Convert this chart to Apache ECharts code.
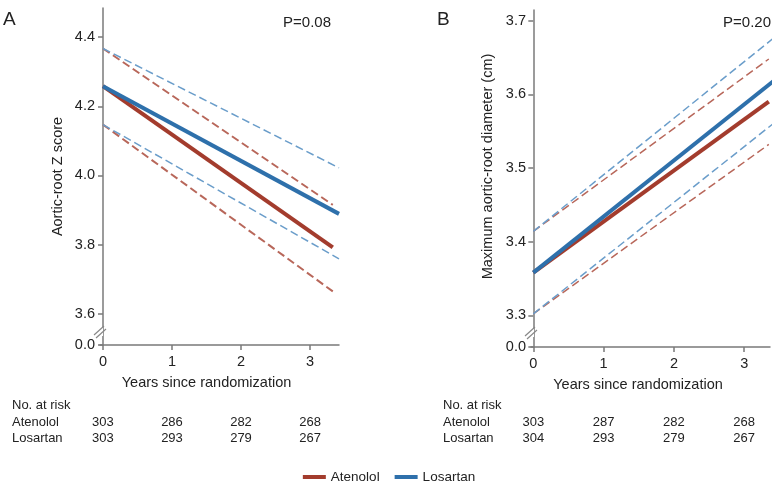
<!DOCTYPE html>
<html>
<head>
<meta charset="utf-8">
<title>aortic root</title>
<script src="https://cdn.jsdelivr.net/npm/echarts@6.0.0/dist/echarts.min.js"></script>
<style>
  body { margin: 0; background: #fff; }
  #main { width: 778px; height: 486px; }
</style>
</head>
<body>
<div id="main"></div>
<script type="text/javascript">
// panel A: aortic-root Z score, [year, value]
var atenololZ      = [[0, 4.258], [3.33, 3.792]];
var atenololZUpper = [[0, 4.367], [3.33, 3.915]];
var atenololZLower = [[0, 4.147], [3.33, 3.665]];
var losartanZ      = [[0, 4.258], [3.42, 3.889]];
var losartanZUpper = [[0, 4.367], [3.42, 4.022]];
var losartanZLower = [[0, 4.147], [3.42, 3.759]];

// panel B: maximum aortic-root diameter (cm)
var atenololD      = [[0, 3.358], [3.35, 3.590]];
var atenololDUpper = [[0, 3.414], [3.35, 3.648]];
var atenololDLower = [[0, 3.302], [3.35, 3.532]];
var losartanD      = [[0, 3.358], [3.43, 3.619]];
var losartanDUpper = [[0, 3.414], [3.40, 3.675]];
var losartanDLower = [[0, 3.302], [3.41, 3.560]];

var yearTicks = [0, 1, 2, 3];
var zTicks = [3.6, 3.8, 4.0, 4.2, 4.4];
var dTicks = [3.3, 3.4, 3.5, 3.6, 3.7];

// numbers at risk
var riskAtenololA = [303, 286, 282, 268];
var riskLosartanA = [303, 293, 279, 267];
var riskAtenololB = [303, 287, 282, 268];
var riskLosartanB = [304, 293, 279, 267];

var RED = '#a33c2d', BLUE = '#2e70ab';
var RED_DASH = '#b8675a', BLUE_DASH = '#6a9dca';
var FONT = 'Liberation Sans';

var zMin = 3.51, zMax = 4.484;
var dMin = 3.257, dMax = 3.7145;

function axisCommon() {
    return {
        axisLine: { lineStyle: { color: '#7a7a7a', width: 1.5 } },
        axisTick: { length: 5, lineStyle: { color: '#7a7a7a', width: 1.5 } },
        splitLine: { show: false },
        axisLabel: { color: '#222', fontSize: 14.5, fontFamily: FONT }
    };
}

function xAxis(idx, min, max, pad) {
    var a = axisCommon();
    a.type = 'value';
    a.gridIndex = idx;
    a.min = min;
    a.max = max;
    a.axisTick.customValues = yearTicks;
    a.axisLabel.customValues = yearTicks;
    a.axisLabel.margin = 9;
    a.name = 'Years since randomization';
    a.nameLocation = 'middle';
    a.nameGap = 30;
    a.nameTextStyle = { color: '#222', fontSize: 14.5, fontFamily: FONT, padding: [0, pad, 0, 0] };
    return a;
}

function yAxis(idx, min, max, ticks, name, gap, lift) {
    var a = axisCommon();
    a.type = 'value';
    a.gridIndex = idx;
    a.min = min;
    a.max = max;
    var vals = [min].concat(ticks);
    a.axisTick.customValues = vals;
    a.axisLabel.customValues = vals;
    a.axisLabel.margin = 5;
    a.axisLabel.formatter = function (v) {
        return v < min + 0.01 ? '0.0' : v.toFixed(1);
    };
    a.name = name;
    a.nameLocation = 'middle';
    a.nameGap = gap;
    a.nameTextStyle = { color: '#222', fontSize: 14.5, fontFamily: FONT, padding: [0, 0, 0, lift] };
    return a;
}

function line(name, data, idx, color, width, dashed) {
    return {
        name: name,
        type: 'line',
        xAxisIndex: idx,
        yAxisIndex: idx,
        data: data,
        showSymbol: false,
        clip: false,
        silent: true,
        z: dashed ? 2 : 3,
        lineStyle: { color: color, width: width, type: dashed ? [8, 4] : 'solid' },
        itemStyle: { color: color }
    };
}

var chart = echarts.init(document.getElementById('main'));
chart.setOption({
    animation: false,
    backgroundColor: '#fff',
    grid: [
        { left: 100, top: 8, width: 239, height: 337 },
        { left: 531, top: 10, width: 239, height: 337 }
    ],
    xAxis: [
        xAxis(0, -0.043, 3.42, 26),
        xAxis(1, -0.033, 3.367, 25)
    ],
    yAxis: [
        yAxis(0, zMin, zMax, zTicks, 'Aortic-root Z score', 35, 0),
        yAxis(1, dMin, dMax, dTicks, 'Maximum aortic-root diameter (cm)', 36, 24)
    ],
    legend: {
        data: ['Atenolol', 'Losartan'],
        left: 'center',
        top: 465,
        icon: 'rect',
        itemWidth: 23,
        itemHeight: 4,
        itemGap: 15,
        textStyle: { color: '#222', fontSize: 13.5, fontFamily: FONT }
    },
    series: [
        line('Atenolol upper', atenololZUpper, 0, RED_DASH, 2, true),
        line('Atenolol lower', atenololZLower, 0, RED_DASH, 2, true),
        line('Losartan upper', losartanZUpper, 0, BLUE_DASH, 1.5, true),
        line('Losartan lower', losartanZLower, 0, BLUE_DASH, 1.5, true),
        line('Atenolol', atenololZ, 0, RED, 4, false),
        line('Losartan', losartanZ, 0, BLUE, 4, false),
        line('Atenolol upper', atenololDUpper, 1, RED_DASH, 1.5, true),
        line('Atenolol lower', atenololDLower, 1, RED_DASH, 1.5, true),
        line('Losartan upper', losartanDUpper, 1, BLUE_DASH, 1.5, true),
        line('Losartan lower', losartanDLower, 1, BLUE_DASH, 1.5, true),
        line('Atenolol', atenololD, 1, RED, 4, false),
        line('Losartan', losartanD, 1, BLUE, 4, false)
    ]
});

// text, break marks and risk table
function txt(x, y, s, size, align) {
    return {
        type: 'text', x: x, y: y, z: 100,
        style: { text: s, fill: '#222', fontSize: size, fontFamily: FONT,
                 align: align || 'left', verticalAlign: 'middle' }
    };
}

function breakMark(x, y) {
    return [
        { type: 'rect', z: 99, shape: { x: x - 3, y: y - 4, width: 6, height: 8 }, style: { fill: '#fff' } },
        { type: 'line', z: 100, shape: { x1: x - 6, y1: y + 3, x2: x + 4, y2: y - 6 }, style: { stroke: '#888', lineWidth: 1.2 } },
        { type: 'line', z: 100, shape: { x1: x - 4, y1: y + 6, x2: x + 6, y2: y - 3 }, style: { stroke: '#888', lineWidth: 1.2 } }
    ];
}

var g = [
    txt(3, 20, 'A', 19),
    txt(437, 20, 'B', 19),
    txt(331, 23, 'P=0.08', 15, 'right'),
    txt(771, 23, 'P=0.20', 15, 'right')
];
g = g.concat(breakMark(100, 332), breakMark(531, 333));

function riskTable(idx, left, rowA, rowL) {
    g.push(txt(left, 405, 'No. at risk', 13));
    g.push(txt(left, 422, 'Atenolol', 13));
    g.push(txt(left, 438, 'Losartan', 13));
    for (var i = 0; i < yearTicks.length; i++) {
        var px = chart.convertToPixel({ xAxisIndex: idx }, yearTicks[i]);
        g.push(txt(px, 422, String(rowA[i]), 13, 'center'));
        g.push(txt(px, 438, String(rowL[i]), 13, 'center'));
    }
}
riskTable(0, 12, riskAtenololA, riskLosartanA);
riskTable(1, 443, riskAtenololB, riskLosartanB);

chart.setOption({ graphic: g });
</script>
</body>
</html>
